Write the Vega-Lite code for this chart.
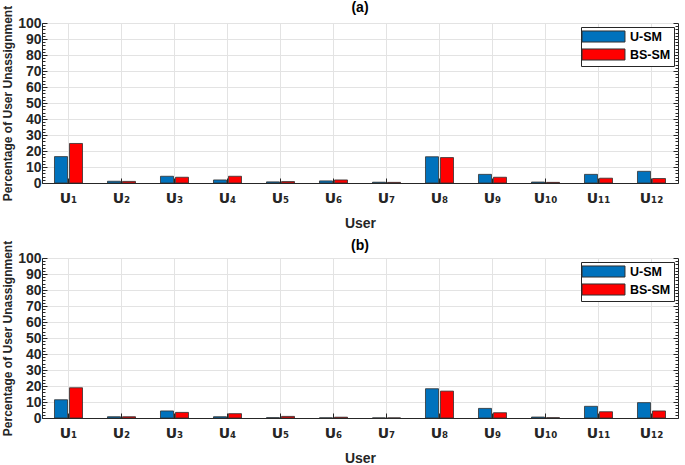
{
  "$schema": "https://vega.github.io/schema/vega-lite/v6.json",
  "background": "white",
  "padding": {"left": 1, "top": 0, "right": 1, "bottom": 0},
  "config": {
    "font": "Liberation Sans",
    "view": {"stroke": "#262626", "strokeWidth": 1},
    "title": {"fontSize": 14, "fontWeight": "bold", "color": "black"},
    "axis": {"domainColor": "#262626", "tickColor": "#262626", "labelColor": "#262626", "titleColor": "#262626", "gridColor": "#e3e3e3", "gridWidth": 1}
  },
  "datasets": {
    "a": [
      {"user": "U₁", "method": "U-SM", "value": 16.5}, {"user": "U₁", "method": "BS-SM", "value": 24.7},
      {"user": "U₂", "method": "U-SM", "value": 1.1}, {"user": "U₂", "method": "BS-SM", "value": 1.0},
      {"user": "U₃", "method": "U-SM", "value": 4.2}, {"user": "U₃", "method": "BS-SM", "value": 3.6},
      {"user": "U₄", "method": "U-SM", "value": 1.9}, {"user": "U₄", "method": "BS-SM", "value": 4.2},
      {"user": "U₅", "method": "U-SM", "value": 0.7}, {"user": "U₅", "method": "BS-SM", "value": 0.9},
      {"user": "U₆", "method": "U-SM", "value": 1.3}, {"user": "U₆", "method": "BS-SM", "value": 1.9},
      {"user": "U₇", "method": "U-SM", "value": 0.5}, {"user": "U₇", "method": "BS-SM", "value": 0.4},
      {"user": "U₈", "method": "U-SM", "value": 16.4}, {"user": "U₈", "method": "BS-SM", "value": 15.9},
      {"user": "U₉", "method": "U-SM", "value": 5.4}, {"user": "U₉", "method": "BS-SM", "value": 3.6},
      {"user": "U₁₀", "method": "U-SM", "value": 0.6}, {"user": "U₁₀", "method": "BS-SM", "value": 0.4},
      {"user": "U₁₁", "method": "U-SM", "value": 5.4}, {"user": "U₁₁", "method": "BS-SM", "value": 3.0},
      {"user": "U₁₂", "method": "U-SM", "value": 7.3}, {"user": "U₁₂", "method": "BS-SM", "value": 2.8}
    ],
    "b": [
      {"user": "U₁", "method": "U-SM", "value": 11.4}, {"user": "U₁", "method": "BS-SM", "value": 18.9},
      {"user": "U₂", "method": "U-SM", "value": 0.8}, {"user": "U₂", "method": "BS-SM", "value": 0.8},
      {"user": "U₃", "method": "U-SM", "value": 4.4}, {"user": "U₃", "method": "BS-SM", "value": 3.5},
      {"user": "U₄", "method": "U-SM", "value": 0.8}, {"user": "U₄", "method": "BS-SM", "value": 2.7},
      {"user": "U₅", "method": "U-SM", "value": 0.2}, {"user": "U₅", "method": "BS-SM", "value": 1.0},
      {"user": "U₆", "method": "U-SM", "value": 0.1}, {"user": "U₆", "method": "BS-SM", "value": 0.5},
      {"user": "U₇", "method": "U-SM", "value": 0.05}, {"user": "U₇", "method": "BS-SM", "value": 0.05},
      {"user": "U₈", "method": "U-SM", "value": 18.3}, {"user": "U₈", "method": "BS-SM", "value": 16.8},
      {"user": "U₉", "method": "U-SM", "value": 6.0}, {"user": "U₉", "method": "BS-SM", "value": 3.3},
      {"user": "U₁₀", "method": "U-SM", "value": 0.6}, {"user": "U₁₀", "method": "BS-SM", "value": 0.2},
      {"user": "U₁₁", "method": "U-SM", "value": 7.3}, {"user": "U₁₁", "method": "BS-SM", "value": 3.9},
      {"user": "U₁₂", "method": "U-SM", "value": 9.6}, {"user": "U₁₂", "method": "BS-SM", "value": 4.4}
    ]
  },
  "bounds": "flush",
  "spacing": 75,
  "resolve": {"legend": {"color": "independent"}},
  "vconcat": [
    {
      "title": {"text": "(a)", "offset": -10},
      "width": 636, "height": 160,
      "data": {"name": "a"},
      "layer": [
        {
          "mark": {"type": "bar", "stroke": "#303030", "strokeWidth": 0.8},
          "encoding": {
            "x": {"field": "user", "type": "nominal", "sort": null, "scale": {"paddingInner": 0, "paddingOuter": 0},
              "axis": {"title": "User", "titleFontSize": 14, "titleFontWeight": "bold", "titlePadding": 11, "labelAngle": 0, "labelFont": "DejaVu Sans", "labelFontSize": 14, "labelFontWeight": "bold", "labelPadding": 13, "grid": true, "bandPosition": 0.5, "tickSize": -5, "domain": true}},
            "xOffset": {"field": "method", "type": "nominal", "sort": ["U-SM", "BS-SM"], "scale": {"paddingInner": 0.133, "paddingOuter": 0.833}},
            "y": {"field": "value", "type": "quantitative", "scale": {"domain": [0, 100], "nice": false},
              "axis": {"title": "Percentage of User Unassignment", "titleFontSize": 12, "titleFontWeight": "bold", "titlePadding": 3,
                "values": [0,2,4,6,8,10,12,14,16,18,20,22,24,26,28,30,32,34,36,38,40,42,44,46,48,50,52,54,56,58,60,62,64,66,68,70,72,74,76,78,80,82,84,86,88,90,92,94,96,98,100],
                "labelExpr": "datum.value % 10 === 0 ? datum.label : ''",
                "labelFontSize": 14, "labelFontWeight": "bold", "labelPadding": 6,
                "gridOpacity": {"condition": {"test": "datum.value % 10 === 0", "value": 1}, "value": 0},
                "tickSize": {"condition": {"test": "datum.value % 10 === 0", "value": -5}, "value": -3}}},
            "color": {"field": "method", "type": "nominal", "scale": {"domain": ["U-SM", "BS-SM"], "range": ["#0072BD", "#FF0000"]},
              "legend": {"title": null, "orient": "top-right", "offset": 4, "symbolType": "M-3.58,-0.92L3.58,-0.92L3.58,0.92L-3.58,0.92Z", "symbolSize": 144, "symbolOffset": 13, "symbolStrokeColor": "#303030", "symbolStrokeWidth": 1, "symbolOpacity": 1, "labelFontSize": 12.5, "labelFontWeight": "bold", "labelColor": "black", "rowPadding": 1, "labelOffset": 20, "padding": 3, "strokeColor": "#262626", "fillColor": "white"}}
          }
        },
        {
          "mark": {"type": "bar", "opacity": 0},
          "encoding": {
            "x": {"field": "user", "type": "nominal", "sort": null},
            "xOffset": {"field": "method", "type": "nominal", "sort": ["U-SM", "BS-SM"]},
            "y": {"field": "value", "type": "quantitative", "axis": {"orient": "right", "title": null, "labels": false, "grid": false, "domain": false,
              "values": [0,2,4,6,8,10,12,14,16,18,20,22,24,26,28,30,32,34,36,38,40,42,44,46,48,50,52,54,56,58,60,62,64,66,68,70,72,74,76,78,80,82,84,86,88,90,92,94,96,98,100],
              "tickSize": {"condition": {"test": "datum.value % 10 === 0", "value": -5}, "value": -3}}}
          }
        }
      ],
      "resolve": {"axis": {"y": "independent"}}
    },
    {
      "title": {"text": "(b)", "offset": -13},
      "width": 636, "height": 160,
      "data": {"name": "b"},
      "layer": [
        {
          "mark": {"type": "bar", "stroke": "#303030", "strokeWidth": 0.8},
          "encoding": {
            "x": {"field": "user", "type": "nominal", "sort": null, "scale": {"paddingInner": 0, "paddingOuter": 0},
              "axis": {"title": "User", "titleFontSize": 14, "titleFontWeight": "bold", "titlePadding": 11, "labelAngle": 0, "labelFont": "DejaVu Sans", "labelFontSize": 14, "labelFontWeight": "bold", "labelPadding": 13, "grid": true, "bandPosition": 0.5, "tickSize": -5, "domain": true}},
            "xOffset": {"field": "method", "type": "nominal", "sort": ["U-SM", "BS-SM"], "scale": {"paddingInner": 0.133, "paddingOuter": 0.833}},
            "y": {"field": "value", "type": "quantitative", "scale": {"domain": [0, 100], "nice": false},
              "axis": {"title": "Percentage of User Unassignment", "titleFontSize": 12, "titleFontWeight": "bold", "titlePadding": 3,
                "values": [0,2,4,6,8,10,12,14,16,18,20,22,24,26,28,30,32,34,36,38,40,42,44,46,48,50,52,54,56,58,60,62,64,66,68,70,72,74,76,78,80,82,84,86,88,90,92,94,96,98,100],
                "labelExpr": "datum.value % 10 === 0 ? datum.label : ''",
                "labelFontSize": 14, "labelFontWeight": "bold", "labelPadding": 6,
                "gridOpacity": {"condition": {"test": "datum.value % 10 === 0", "value": 1}, "value": 0},
                "tickSize": {"condition": {"test": "datum.value % 10 === 0", "value": -5}, "value": -3}}},
            "color": {"field": "method", "type": "nominal", "scale": {"domain": ["U-SM", "BS-SM"], "range": ["#0072BD", "#FF0000"]},
              "legend": {"title": null, "orient": "top-right", "offset": 4, "symbolType": "M-3.58,-0.92L3.58,-0.92L3.58,0.92L-3.58,0.92Z", "symbolSize": 144, "symbolOffset": 13, "symbolStrokeColor": "#303030", "symbolStrokeWidth": 1, "symbolOpacity": 1, "labelFontSize": 12.5, "labelFontWeight": "bold", "labelColor": "black", "rowPadding": 1, "labelOffset": 20, "padding": 3, "strokeColor": "#262626", "fillColor": "white"}}
          }
        },
        {
          "mark": {"type": "bar", "opacity": 0},
          "encoding": {
            "x": {"field": "user", "type": "nominal", "sort": null},
            "xOffset": {"field": "method", "type": "nominal", "sort": ["U-SM", "BS-SM"]},
            "y": {"field": "value", "type": "quantitative", "axis": {"orient": "right", "title": null, "labels": false, "grid": false, "domain": false,
              "values": [0,2,4,6,8,10,12,14,16,18,20,22,24,26,28,30,32,34,36,38,40,42,44,46,48,50,52,54,56,58,60,62,64,66,68,70,72,74,76,78,80,82,84,86,88,90,92,94,96,98,100],
              "tickSize": {"condition": {"test": "datum.value % 10 === 0", "value": -5}, "value": -3}}}
          }
        }
      ],
      "resolve": {"axis": {"y": "independent"}}
    }
  ]
}
